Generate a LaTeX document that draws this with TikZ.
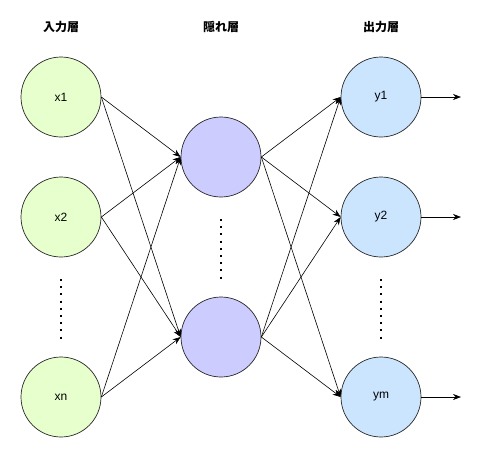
\documentclass[tikz,border=0pt]{standalone}
\usepackage{fontspec}
\setmainfont{Liberation Sans}
\newfontfamily\cjk{Noto Sans CJK JP}
\usetikzlibrary{arrows.meta}
\definecolor{ingreen}{HTML}{E6FFCC}
\definecolor{hidblue}{HTML}{CCCCFF}
\definecolor{outblue}{HTML}{CCE5FF}
\begin{document}
\begin{tikzpicture}[x=1pt,y=-1pt,
  neuron/.style={circle,draw=black!85,line width=0.7pt,minimum size=80pt,inner sep=0pt,font=\fontsize{12}{14}\selectfont},
  innode/.style={neuron,fill=ingreen},
  hidnode/.style={neuron,fill=hidblue},
  outnode/.style={neuron,fill=outblue},
  title/.style={font=\cjk\bfseries\fontsize{12}{14}\selectfont},
  conn/.style={-{Stealth[length=8pt,width=6pt]},line width=0.6pt,black},
  dots/.style={line width=2pt,dash pattern=on 2pt off 5.2pt}]
\useasboundingbox (0,0) rectangle (488,464);
\node[title] (t1) at (61,27) {入力層};
\node[title] (t2) at (221,27) {隠れ層};
\node[title] (t3) at (381,27) {出力層};
\node[innode] (x1) at (61,97) {x1};
\node[innode] (x2) at (61,217) {x2};
\node[innode] (xn) at (61,397) {xn};
\node[hidnode] (h1) at (221,157) {};
\node[hidnode] (h2) at (221,337) {};
\node[outnode] (y1) at (381,97) {y1};
\node[outnode] (y2) at (381,217) {y2};
\node[outnode] (ym) at (381,397) {ym};
\coordinate (xa) at (61,279); \coordinate (xb) at (61,339);
\coordinate (ha) at (221,219); \coordinate (hb) at (221,279);
\coordinate (ya) at (381,279); \coordinate (yb) at (381,339);
\draw[dots] (xa) -- (xb);
\draw[dots] (ha) -- (hb);
\draw[dots] (ya) -- (yb);
\foreach \s in {x1,x2,xn}{
  \foreach \t in {h1,h2}{
    \draw[conn] (\s.east) -- (\t.west);
  }
}
\foreach \s in {h1,h2}{
  \foreach \t in {y1,y2,ym}{
    \draw[conn] (\s.east) -- (\t.west);
  }
}
\coordinate (o1) at (461,97);
\coordinate (o2) at (461,217);
\coordinate (o3) at (461,397);
\draw[conn] (y1.east) -- (o1);
\draw[conn] (y2.east) -- (o2);
\draw[conn] (ym.east) -- (o3);
\end{tikzpicture}
\end{document}
